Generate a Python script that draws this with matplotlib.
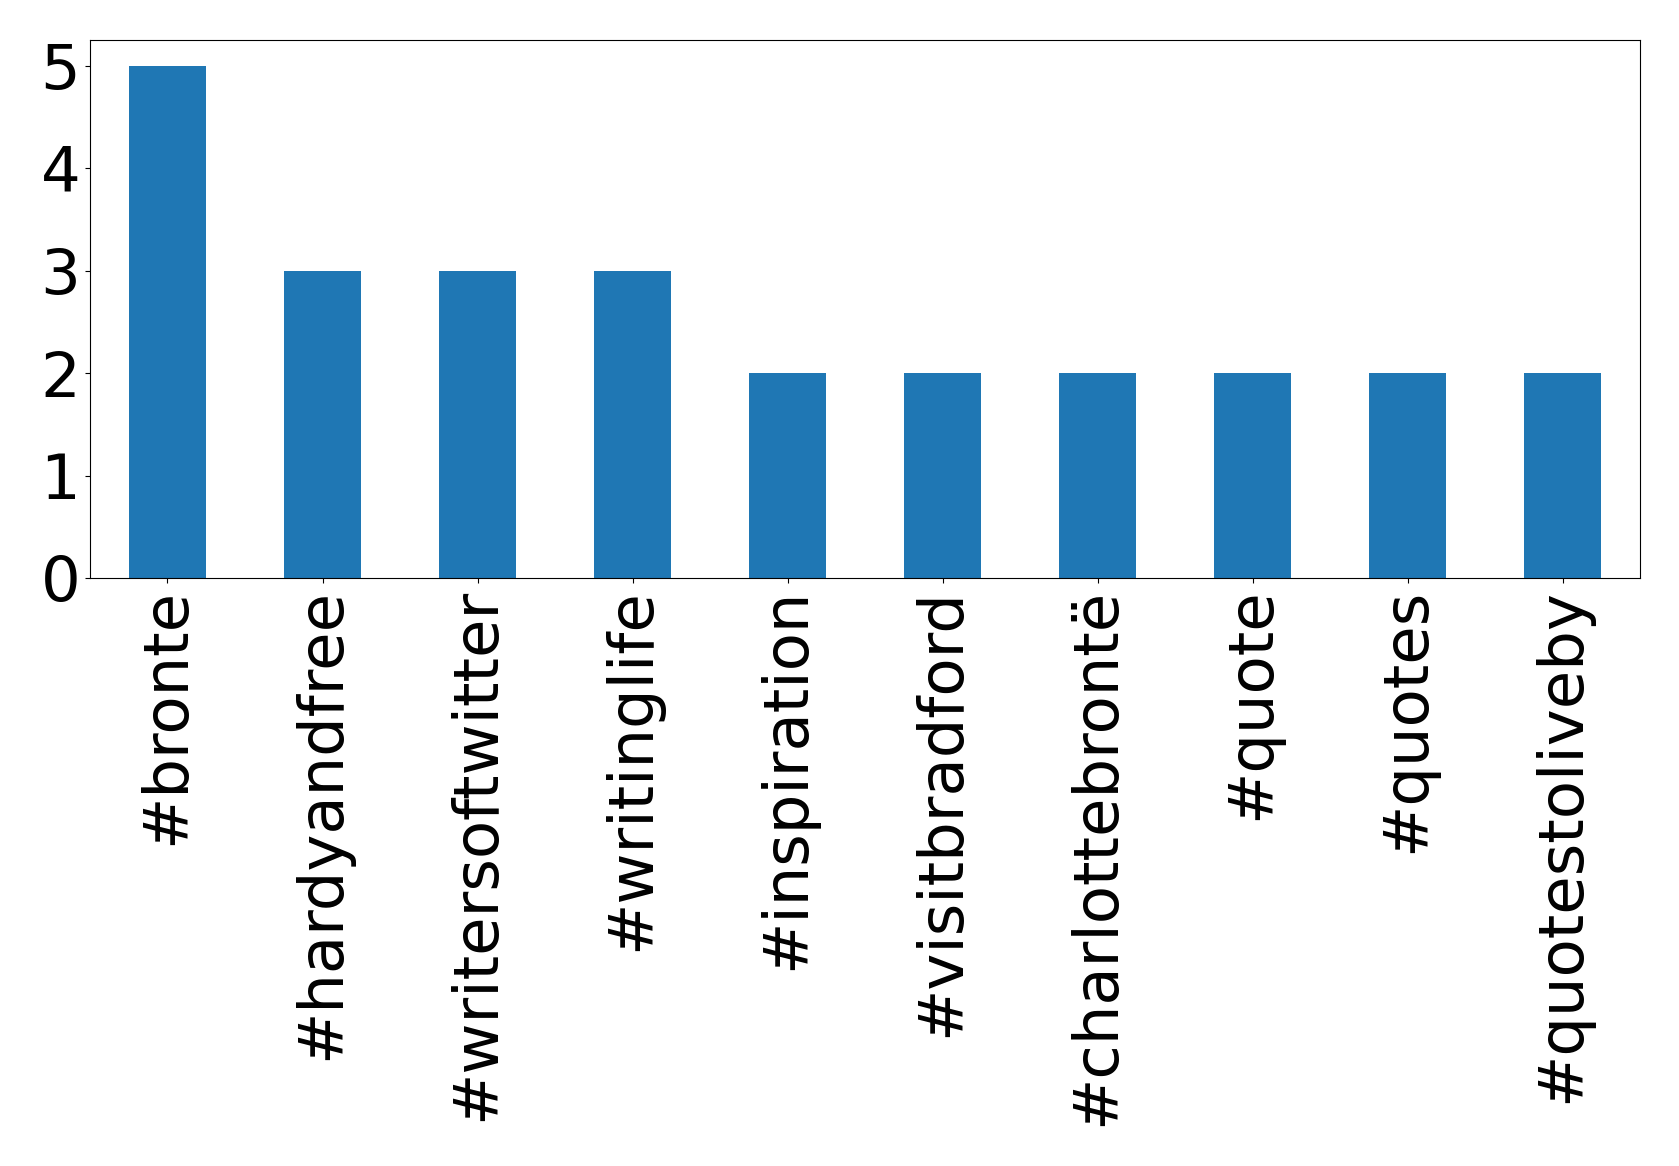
import matplotlib
matplotlib.use("Agg")
import matplotlib.pyplot as plt
import pandas as pd

# Hashtags mais frequentes
hashtags = [
    "#bronte", "#hardyandfree", "#writersoftwitter", "#writinglife",
    "#inspiration", "#visitbradford", "#charlottebrontë", "#quote",
    "#quotes", "#quotestoliveby",
]
contagens = [5, 3, 3, 3, 2, 2, 2, 2, 2, 2]

serie = pd.Series(contagens, index=hashtags)

fig = plt.figure(figsize=(16.79, 11.66), dpi=100)
ax = fig.add_axes([0.0536, 0.5043, 0.9232, 0.4614])
serie.plot(kind="bar", ax=ax, color="#1f77b4", width=0.5)

ax.set_yticks([0, 1, 2, 3, 4, 5])
ax.tick_params(axis="both", labelsize=45)
plt.setp(ax.get_xticklabels(), rotation=90)

fig.savefig("out.png", dpi=100)
